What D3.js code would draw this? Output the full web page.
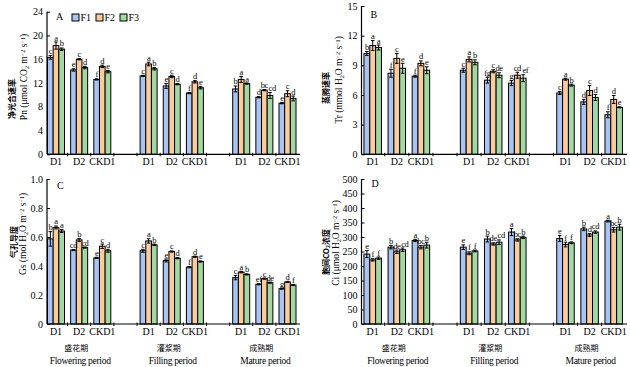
<!DOCTYPE html>
<html><head><meta charset="utf-8">
<script src="https://cdn.jsdelivr.net/npm/d3@7"></script>
<style>body{margin:0;background:#fff}svg{display:block}</style>
</head><body>
<svg id="c" width="630" height="367"></svg>
<script>
// ---------- data ----------
const treatments = ["D1","D2","CKD1"];
const periodsZh = ["盛花期","灌浆期","成熟期"];
const periodsEn = ["Flowering period","Filling period","Mature period"];
const seriesNames = ["F1","F2","F3"];
const seriesColors = ["#a9c4f2","#fccb9c","#a4d8a2"];

// Pn (order: flowering D1,D2,CKD1, filling D1,D2,CKD1, mature D1,D2,CKD1)
const pnF1 = [16.3,14.2,12.6,13.2,11.5,10.3,11.0,9.6,8.6];
const pnF2 = [18.3,16.0,14.8,15.2,13.1,12.2,12.6,10.8,10.2];
const pnF3 = [17.7,14.6,13.9,14.4,11.8,11.2,11.9,9.9,9.4];
const pnErrF1 = [0.3,0.2,0.1,0.1,0.4,0.1,0.5,0.1,0.1];
const pnErrF2 = [0.6,0.1,0.2,0.3,0.2,0.2,0.5,0.1,0.5];
const pnErrF3 = [0.2,0.2,0.2,0.2,0.1,0.2,0.1,0.5,0.4];
const pnSigF1 = ["c","e","f","c","e","f","b","d","e"];
const pnSigF2 = ["a","c","d","a","c","d","a","bc","c"];
const pnSigF3 = ["b","d","e","b","d","e","a","cd","d"];
const pnTicks = [0,4,8,12,16,20,24];

// Tr
const trF1 = [10.2,8.2,7.9,8.5,7.5,7.2,6.2,5.3,4.0];
const trF2 = [11.0,9.7,9.2,9.6,8.4,8.0,7.6,6.45,5.55];
const trF3 = [10.8,8.7,8.5,9.3,8.0,7.7,7.0,5.75,4.75];
const trErrF1 = [0.2,0.4,0.1,0.2,0.3,0.25,0.15,0.25,0.3];
const trErrF2 = [0.5,0.5,0.25,0.25,0.15,0.3,0.1,0.5,0.4];
const trErrF3 = [0.25,0.5,0.35,0.25,0.25,0.35,0.1,0.3,0.05];
const trSigF1 = ["b","f","f","c","fg","g","c","d","f"];
const trSigF2 = ["a","c","d","a","c","cd","a","c","d"];
const trSigF3 = ["a","e","e","b","de","ef","b","d","e"];
const trTicks = [0,3,6,9,12,15];

// Gs
const gsF1 = [0.587,0.51,0.456,0.505,0.438,0.392,0.32,0.274,0.244];
const gsF2 = [0.666,0.58,0.536,0.573,0.50,0.464,0.358,0.313,0.29];
const gsF3 = [0.641,0.527,0.505,0.546,0.454,0.431,0.342,0.285,0.269];
const gsErrF1 = [0.05,0.004,0.004,0.01,0.01,0.004,0.015,0.004,0.004];
const gsErrF2 = [0.01,0.01,0.015,0.015,0.004,0.004,0.005,0.004,0.004];
const gsErrF3 = [0.01,0.004,0.01,0.005,0.004,0.004,0.004,0.004,0.004];
const gsSigF1 = ["b","cd","e","c","e","f","c","ef","g"];
const gsSigF2 = ["a","b","c","a","c","d","a","c","d"];
const gsSigF3 = ["a","cd","d","b","d","e","b","de","f"];
const gsTicks = [0,0.2,0.4,0.6,0.8,1.0];

// Ci
const ciF1 = [241,265,288,265,293,317,295,328,355];
const ciF2 = [221,249,265,244,276,290,274,307,325];
const ciF3 = [227,256,272,252,282,299,280,317,334];
const ciErrF1 = [12,6,4,8,10,12,10,6,3];
const ciErrF2 = [4,6,6,5,4,4,8,5,8];
const ciErrF3 = [4,6,10,3,8,4,3,4,10];
const ciSigF1 = ["e","b","a","e","b","a","e","b","a"];
const ciSigF2 = ["f","de","bc","f","de","bc","f","d","bc"];
const ciSigF3 = ["f","cd","b","f","cd","b","f","cd","b"];
const ciTicks = [0,50,100,150,200,250,300,350,400,450,500];

// ---------- drawing ----------
const svg = d3.select("#c");
const SERIF = "'Liberation Serif','Times New Roman',serif";
const CJK = "'Noto Sans CJK SC','Noto Sans CJK JP',sans-serif";

// 11 slots: 3 groups, gap, 3 groups, gap, 3 groups
const slots = [];
for (let p=0;p<3;p++){ treatments.forEach(t=>slots.push(p+"_"+t)); if(p<2) slots.push("gap"+p); }
const dataSlots = slots.filter(s=>!s.startsWith("gap"));

function richText(g, parts, size){
  parts.forEach(([t,kind])=>{
    const ts = g.append("tspan").text(t);
    if(kind==="sub"){ ts.attr("font-size",size*0.65).attr("baseline-shift","-25%"); }
    else if(kind==="sup"){ ts.attr("font-size",size*0.65).attr("baseline-shift","40%"); }
  });
}

function panel(cfg){
  const g = svg.append("g");
  const x = d3.scaleBand().domain(slots).range([cfg.c0 - cfg.step/2, cfg.c0 + 10.5*cfg.step]).paddingInner(0);
  const inner = d3.scaleBand().domain(seriesNames).range([-cfg.gw/2, cfg.gw/2]);
  const y = d3.scaleLinear().domain([0, cfg.max]).range([cfg.base, cfg.top]);

  // y axis
  const ya = d3.axisLeft(y).tickValues(cfg.ticks).tickSize(-3).tickPadding(4).tickFormat(cfg.fmt);
  const yg = g.append("g").attr("transform",`translate(${cfg.ax},0)`).call(ya);
  yg.select(".domain").attr("d",`M0,${cfg.base}V${cfg.top}`).attr("stroke","#000").attr("stroke-width",1.2);
  yg.selectAll(".tick line").attr("stroke","#000");
  yg.selectAll(".tick text").attr("font-family",SERIF).attr("font-size",10).attr("fill","#000");

  // bars
  const series = [cfg.v1,cfg.v2,cfg.v3], errs=[cfg.e1,cfg.e2,cfg.e3], sigs=[cfg.s1,cfg.s2,cfg.s3];
  const rows = [];
  dataSlots.forEach((slot,i)=>{
    series.forEach((arr,k)=>rows.push({slot, s:seriesNames[k], k, v:arr[i], e:errs[k][i], sig:sigs[k][i],
      nb: k>0 ? sigs[k-1][i].length : 0}));
  });
  const bx = d=> x(d.slot) + x.bandwidth()/2 + inner(d.s);
  g.selectAll("rect.bar").data(rows).join("rect").attr("class","bar")
    .attr("x",bx).attr("width",inner.bandwidth())
    .attr("y",d=>y(d.v)).attr("height",d=>y(0)-y(d.v))
    .attr("fill",d=>seriesColors[d.k]).attr("stroke","#000").attr("stroke-width",1);
  // error bars
  const cx = d=> bx(d)+inner.bandwidth()/2;
  const eg = g.selectAll("g.err").data(rows).join("g").attr("class","err").attr("stroke","#000").attr("stroke-width",1);
  eg.append("line").attr("x1",cx).attr("x2",cx).attr("y1",d=>y(d.v-d.e)).attr("y2",d=>y(d.v+d.e));
  eg.append("line").attr("x1",d=>cx(d)-1.8).attr("x2",d=>cx(d)+1.8).attr("y1",d=>y(d.v+d.e)).attr("y2",d=>y(d.v+d.e));
  eg.append("line").attr("x1",d=>cx(d)-1.8).attr("x2",d=>cx(d)+1.8).attr("y1",d=>y(d.v-d.e)).attr("y2",d=>y(d.v-d.e));
  // letters (nudged right when the left neighbour's label is also two letters)
  g.selectAll("text.sig").data(rows).join("text").attr("class","sig")
    .attr("x",d=>cx(d) + ((d.sig.length>1 && d.nb>1) ? 2.2 : 0))
    .attr("y",d=>y(d.v+d.e)-1.5).attr("text-anchor","middle")
    .attr("font-family",SERIF).attr("font-size",8.5).attr("letter-spacing",-0.4).attr("fill","#000").text(d=>d.sig);

  // x axis
  const xa = d3.axisBottom(x).tickValues(dataSlots).tickSize(0).tickPadding(4).tickFormat(s=>s.split("_")[1]);
  const xg = g.append("g").attr("transform",`translate(0,${cfg.base})`).call(xa);
  xg.select(".domain").attr("d",`M${cfg.ax},0H${cfg.end}`).attr("stroke","#000").attr("stroke-width",1.2);
  xg.selectAll(".tick text").attr("font-family",SERIF).attr("font-size",10).attr("fill","#000");
  const bounds = slots.slice(1).map(s=>x(s));
  xg.selectAll("line.bt").data(bounds).join("line").attr("class","bt")
    .attr("x1",d=>d).attr("x2",d=>d).attr("y1",-1.5).attr("y2",2).attr("stroke","#000").attr("stroke-width",1);

  // panel letter
  g.append("text").attr("x",cfg.ax+cfg.lx).attr("y",cfg.ly).attr("font-family",SERIF).attr("font-size",10).text(cfg.letter);

  // y labels
  const zh = g.append("text").attr("transform",`translate(${cfg.zhX},${cfg.zhY}) rotate(-90)`)
    .attr("text-anchor","middle").attr("font-family",CJK).attr("font-size",8).attr("font-weight","bold").attr("fill","#000");
  richText(zh, cfg.zh, 8);
  const en = g.append("text").attr("transform",`translate(${cfg.enX},${cfg.enY}) rotate(-90)`)
    .attr("text-anchor","middle").attr("font-family",SERIF).attr("font-size",9.5).attr("fill","#000");
  richText(en, cfg.en, 9.5);

  // period labels
  if(cfg.periods){
    periodsZh.forEach((p,i)=>{
      const cxp = x(i+"_D2")+x.bandwidth()/2;
      g.append("text").attr("x",cxp-3).attr("y",cfg.base+27).attr("text-anchor","middle")
        .attr("font-family",CJK).attr("font-size",8).attr("fill","#000").text(p);
      g.append("text").attr("x",cxp+1).attr("y",cfg.base+40).attr("text-anchor","middle")
        .attr("font-family",SERIF).attr("font-size",9.5).attr("fill","#000").attr("letter-spacing",-0.3).text(periodsEn[i]);
    });
  }
  return {x,y};
}

const L = {ax:47, end:300, c0:56, step:23.15, gw:17};
const R = {ax:361.5, end:627, c0:372.7, step:24.1, gw:17.5};

panel(Object.assign({}, L, {max:24, top:11.7, base:154.3, ticks:pnTicks, fmt:d3.format("d"),
  v1:pnF1,v2:pnF2,v3:pnF3,e1:pnErrF1,e2:pnErrF2,e3:pnErrF3,s1:pnSigF1,s2:pnSigF2,s3:pnSigF3,
  letter:"A", lx:9, ly:20,
  zh:[["净光合速率","n"]], zhX:15, zhY:99,
  en:[["Pn (μmol CO","n"],["2","sub"],[" m","n"],["−2","sup"],[" s","n"],["−1","sup"],[")","n"]], enX:27, enY:77}));

panel(Object.assign({}, R, {max:15, top:6, base:154.3, ticks:trTicks, fmt:d3.format("d"),
  v1:trF1,v2:trF2,v3:trF3,e1:trErrF1,e2:trErrF2,e3:trErrF3,s1:trSigF1,s2:trSigF2,s3:trSigF3,
  letter:"B", lx:9, ly:18,
  zh:[["蒸腾速率","n"]], zhX:329, zhY:88,
  en:[["Tr (mmol H","n"],["2","sub"],["O m","n"],["−2","sup"],[" s","n"],["−1","sup"],[")","n"]], enX:342, enY:80}));

panel(Object.assign({}, L, {max:1.0, top:179, base:324, ticks:gsTicks, fmt:d=>d===0?"0":d3.format(".1f")(d),
  v1:gsF1,v2:gsF2,v3:gsF3,e1:gsErrF1,e2:gsErrF2,e3:gsErrF3,s1:gsSigF1,s2:gsSigF2,s3:gsSigF3,
  letter:"C", lx:10, ly:189, periods:true,
  zh:[["气孔导度","n"]], zhX:17, zhY:242,
  en:[["Gs (mol H","n"],["2","sub"],["O m","n"],["−2","sup"],[" s","n"],["−1","sup"],[")","n"]], enX:26, enY:234}));

panel(Object.assign({}, R, {max:500, top:179, base:324, ticks:ciTicks, fmt:d3.format("d"),
  v1:ciF1,v2:ciF2,v3:ciF3,e1:ciErrF1,e2:ciErrF2,e3:ciErrF3,s1:ciSigF1,s2:ciSigF2,s3:ciSigF3,
  letter:"D", lx:10, ly:187, periods:true,
  zh:[["胞间CO","n"],["2","sub"],["浓度","n"]], zhX:329, zhY:252,
  en:[["Ci (μmol H","n"],["2","sub"],["O m","n"],["−2","sup"],[" s","n"],["−1","sup"],[")","n"]], enX:339, enY:243}));

// legend (panel A)
const lg = svg.append("g").attr("transform","translate(72,14)");
seriesNames.forEach((s,i)=>{
  const gi = lg.append("g").attr("transform",`translate(${i*24},0)`);
  gi.append("rect").attr("width",7).attr("height",7).attr("fill",seriesColors[i]).attr("stroke","#000").attr("stroke-width",1);
  gi.append("text").attr("x",8.5).attr("y",7).attr("font-family",SERIF).attr("font-size",10).text(s);
});
</script>
</body></html>
